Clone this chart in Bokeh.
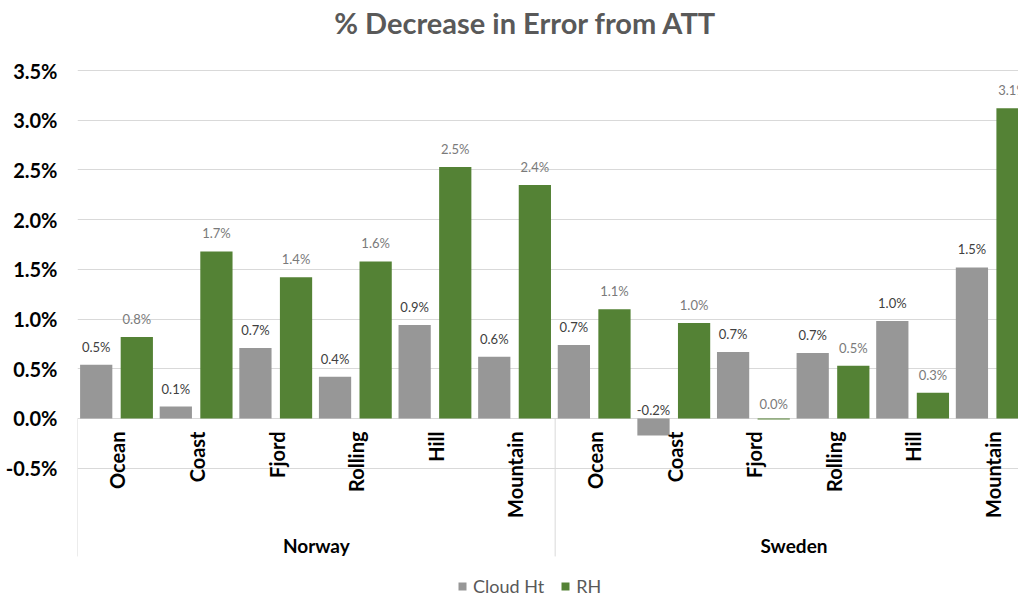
import numpy as np
from bokeh.plotting import figure
from bokeh.models import (Range1d, FixedTicker, PrintfTickFormatter, ColumnDataSource,
                          Legend, LegendItem)
from bokeh.core.properties import value
from bokeh.embed import file_html
from bokeh.resources import INLINE

# ---------------- data ----------------
regions = ["Norway", "Sweden"]
terrains = ["Ocean", "Coast", "Fjord", "Rolling", "Hill", "Mountain"]
series_names = ["Cloud Ht", "RH"]
cloud_ht = [0.54, 0.12, 0.71, 0.42, 0.94, 0.62,
            0.74, -0.17, 0.67, 0.66, 0.98, 1.52]
rh = [0.82, 1.68, 1.42, 1.58, 2.53, 2.35,
      1.10, 0.96, -0.01, 0.53, 0.26, 3.12]
y_ticks = [-0.5, 0.0, 0.5, 1.0, 1.5, 2.0, 2.5, 3.0, 3.5]
title_text = "% Decrease in Error from ATT"

# ---------------- styles ----------------
FONT = "Lato"
GRAY = "#979797"
GREEN = "#548235"
GRID = "#d9d9d9"
SEP_BOTTOM = -1.388
GROUP_Y = -1.28
TITLE_X, TITLE_Y = 5.628, 3.984

n_cat = len(regions) * len(terrains)
idx = np.arange(n_cat)

p = figure(width=1018, height=597, output_backend="svg", toolbar_location=None,
           x_range=Range1d(0, 11.82), y_range=Range1d(-1.801, 4.205),
           x_axis_location=None, min_border_left=77, min_border_right=0,
           min_border_top=0, min_border_bottom=0)
p.outline_line_color = None
p.background_fill_color = "white"
p.border_fill_color = "white"

# y axis
p.yaxis.ticker = FixedTicker(ticks=y_ticks)
p.yaxis.formatter = PrintfTickFormatter(format="%.1f%%")
p.yaxis.axis_line_color = None
p.yaxis.major_tick_line_color = None
p.yaxis.minor_tick_line_color = None
p.yaxis.major_tick_in = 0
p.yaxis.major_tick_out = 0
p.yaxis.major_label_standoff = 20
p.yaxis.major_label_text_font = FONT
p.yaxis.major_label_text_font_size = "20px"
p.yaxis.major_label_text_font_style = "bold"
p.yaxis.major_label_text_color = "#000000"
p.xgrid.visible = False
p.ygrid.ticker = FixedTicker(ticks=y_ticks)
p.ygrid.grid_line_color = GRID
p.ygrid.grid_line_width = 1

# title
p.text(x=[TITLE_X], y=[TITLE_Y], text=[title_text], text_align="center",
       text_baseline="middle", text_font=value(FONT), text_font_size="29px",
       text_font_style="bold", text_color="#595959")

# separators between region groups
bounds = [i * len(terrains) for i in range(len(regions) + 1)]
p.segment(x0=bounds, y0=0, x1=bounds, y1=SEP_BOTTOM,
          line_color=GRID, line_width=1)

# bars
def fmt(v):
    return f"{round(v, 1) + 0.0:.1f}%"

src = ColumnDataSource(dict(
    x_c=idx + 0.235, x_r=idx + 0.745,
    c=cloud_ht, r=rh,
    c_lab=[fmt(v) for v in cloud_ht], r_lab=[fmt(v) for v in rh],
    c_top=np.maximum(cloud_ht, 0), r_top=np.maximum(rh, 0),
    c_off=np.where(np.array(cloud_ht) < 0, 0, -10),
    r_off=np.where(np.array(rh) < 0, -6, -10),
))
bar_c = p.vbar(x="x_c", top="c", bottom=0, width=0.405, source=src,
               fill_color=GRAY, line_color=None)
bar_r = p.vbar(x="x_r", top="r", bottom=0, width=0.405, source=src,
               fill_color=GREEN, line_color=None)

p.text(x="x_c", y="c_top", text="c_lab", y_offset="c_off", source=src,
       text_align="center", text_baseline="bottom", text_font=value(FONT),
       text_font_size="13px", text_color="#404040")
p.text(x="x_r", y="r_top", text="r_lab", y_offset="r_off", source=src,
       text_align="center", text_baseline="bottom", text_font=value(FONT),
       text_font_size="13px", text_color="#7a7a7a")

# category labels (rotated)
cat_src = ColumnDataSource(dict(
    x=idx + 0.5, y=np.zeros(n_cat),
    t=[t for _ in regions for t in terrains],
))
p.text(x="x", y="y", text="t", source=cat_src, angle=np.pi / 2,
       y_offset=13, text_align="right", text_baseline="middle",
       text_font=value(FONT), text_font_size="20px", text_font_style="bold",
       text_color="#000000")

# group labels
grp_src = ColumnDataSource(dict(
    x=[(bounds[i] + bounds[i + 1]) / 2 for i in range(len(regions))],
    y=[GROUP_Y] * len(regions), t=regions))
p.text(x="x", y="y", text="t", source=grp_src, text_align="center",
       text_baseline="middle", text_font=value(FONT), text_font_size="19px",
       text_font_style="bold", text_color="#000000")

legend = Legend(items=[LegendItem(label=series_names[0], renderers=[bar_c]),
                       LegendItem(label=series_names[1], renderers=[bar_r])],
                location=(380, 0), orientation="horizontal",
                padding=0, margin=0, spacing=16, label_standoff=6,
                glyph_width=10, glyph_height=10,
                label_text_font=FONT, label_text_font_size="18px",
                label_text_color="#595959",
                border_line_color=None, background_fill_alpha=0)
p.add_layout(legend, "center")

open("out.html", "w").write(file_html(p, INLINE))
